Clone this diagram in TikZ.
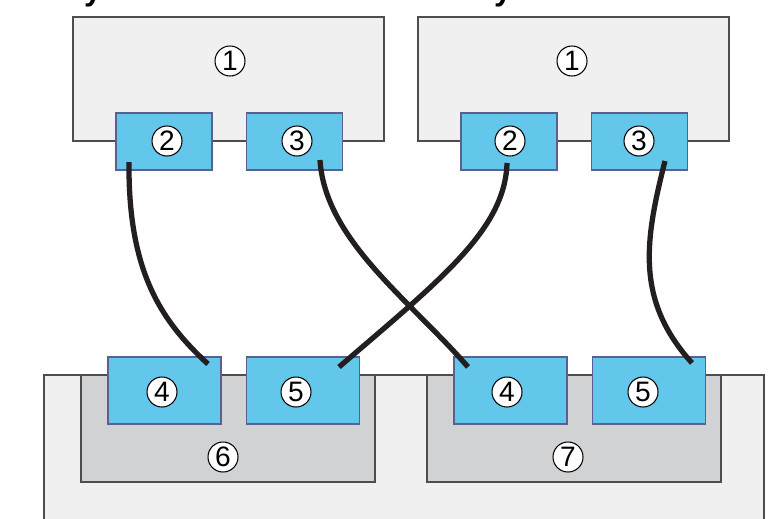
\documentclass[tikz,border=0pt]{standalone}
\usepackage{fontspec}
\setmainfont{Liberation Sans}
\usepackage{tikz}
\usetikzlibrary{positioning}
\definecolor{hostfill}{HTML}{F0F0F0}
\definecolor{hostline}{HTML}{4D4D4D}
\definecolor{portfill}{HTML}{63C7EB}
\definecolor{portline}{HTML}{5A6090}
\definecolor{ctrlfill}{HTML}{D1D2D4}
\definecolor{cablecol}{HTML}{231F20}
\tikzstyle{host} = [rectangle, minimum width=6.22cm, minimum height=2.48cm, draw=hostline, fill=hostfill, line width=0.8pt]
\tikzstyle{ctrl} = [rectangle, minimum width=5.88cm, minimum height=2.14cm, draw=hostline, fill=ctrlfill, line width=0.8pt]
\tikzstyle{hport} = [rectangle, minimum width=1.92cm, minimum height=1.14cm, draw=portline, fill=portfill, line width=0.7pt]
\tikzstyle{sport} = [rectangle, minimum width=2.26cm, minimum height=1.34cm, draw=portline, fill=portfill, line width=0.7pt]
\tikzstyle{num} = [circle, draw=black, fill=white, line width=0.6pt, minimum size=0.6cm, inner sep=0pt, font=\fontsize{16}{16}\selectfont]
\tikzstyle{cable} = [line width=3pt, draw=cablecol]

\begin{document}
\begin{tikzpicture}[x=0.02cm, y=-0.02cm]
                \useasboundingbox (0,0) rectangle (776,518);
                % cut-off titles
                \node[anchor=base, font=\bfseries\fontsize{18}{18}\selectfont] (titlea) at (93,0) {y};
                \node[anchor=base, font=\bfseries\fontsize{18}{18}\selectfont] (titleb) at (503,0) {y};
                % storage enclosure
                \draw[draw=hostline, fill=hostfill, line width=0.8pt] (44,540) -- (44,375) -- (764,375) -- (764,540);
                \node (ctrla) [ctrl] at (228,428.5) {};
                \node (ctrlb) [ctrl] at (574,428.5) {};
                % hosts
                \node (hosta) [host] at (228.5,79) {};
                \node (hostb) [host] at (573.5,79) {};
                % host ports
                \node (hpa2) [hport] at (164,141.5) {};
                \node (hpa3) [hport, right=0.66cm of hpa2] {};
                \node (hpb2) [hport] at (509,141.5) {};
                \node (hpb3) [hport, right=0.66cm of hpb2] {};
                % storage ports
                \node (spa4) [sport] at (164.5,390.5) {};
                \node (spa5) [sport, right=0.48cm of spa4] {};
                \node (spb4) [sport] at (510.5,390.5) {};
                \node (spb5) [sport, right=0.48cm of spb4] {};
                % labels
                \node (na1) [num] at (230,61) {1};
                \node (nb1) [num] at (572,61) {1};
                \node (na2) [num] at (167,141) {2};
                \node (na3) [num] at (297,141) {3};
                \node (nb2) [num] at (510,141) {2};
                \node (nb3) [num] at (639,141) {3};
                \node (na4) [num] at (162,392) {4};
                \node (na5) [num] at (296,392) {5};
                \node (nb4) [num] at (507,392) {4};
                \node (nb5) [num] at (643,392) {5};
                \node (na6) [num] at (223,457) {6};
                \node (nb7) [num] at (568,457) {7};
                % cable ends
                \coordinate (ca2) at (129,162);
                \coordinate (ca3) at (320,160);
                \coordinate (cb2) at (507,163);
                \coordinate (cb3) at (665,161);
                \coordinate (ca4) at (208,364);
                \coordinate (ca5) at (339,367);
                \coordinate (cb4) at (468,367);
                \coordinate (cb5) at (692,363);
                \draw [cable] (ca2) .. controls (128,270) and (160,320) .. (ca4);
                \draw [cable] (ca3) .. controls (325,240) and (410,300) .. (cb4);
                \draw [cable] (cb2) .. controls (505,230) and (440,280) .. (ca5);
                \draw [cable] (cb3) .. controls (645,240) and (635,300) .. (cb5);
\end{tikzpicture}
\end{document}
